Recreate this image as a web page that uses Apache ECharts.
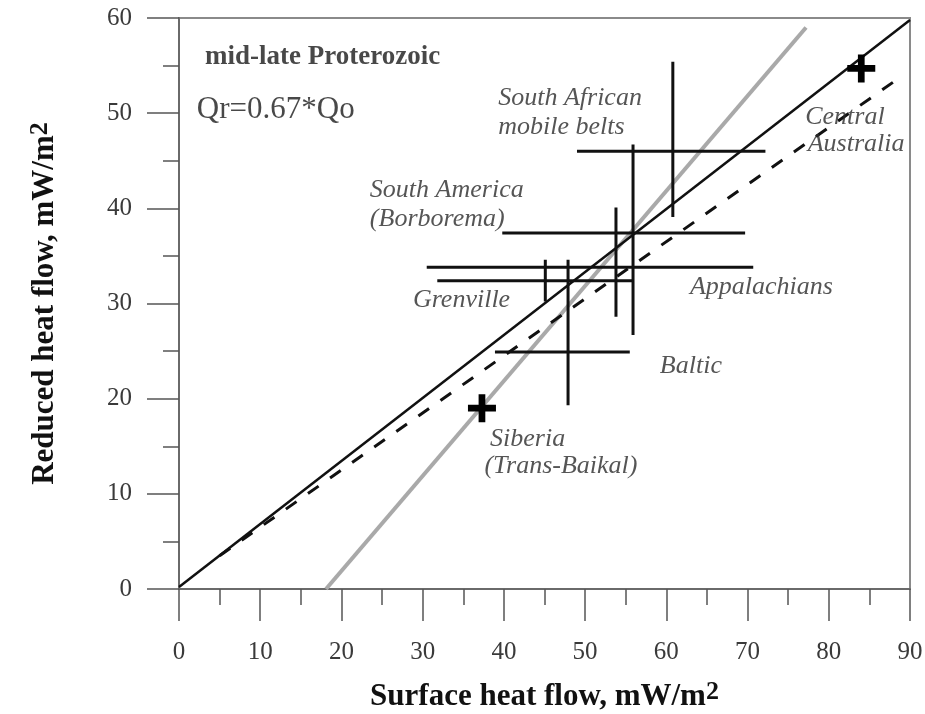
<!DOCTYPE html>
<html>
<head>
<meta charset="utf-8">
<script src="https://cdn.jsdelivr.net/npm/echarts@6/dist/echarts.min.js"></script>
<style>
  html, body { margin: 0; padding: 0; background: #fff; }
  #chart { width: 925px; height: 714px; }
</style>
</head>
<body>
<div id="chart"></div>
<script>
// Axis ranges (mW/m2)
const qoRange = [0, 90];
const qrRange = [0, 60];

// Provinces with error crosses: mean value and range on each axis
const provinces = ['South African mobile belts', 'South America (Borborema)', 'Appalachians', 'Grenville', 'Baltic'];
const qoMean = [60.8, 55.9, 53.8, 45.1, 47.9];
const qoLow  = [49.0, 39.8, 30.5, 31.8, 38.9];
const qoHigh = [72.2, 69.7, 70.7, 55.9, 55.5];
const qrMean = [46.0, 37.4, 33.8, 32.4, 24.9];
const qrLow  = [39.1, 26.7, 28.6, 30.2, 19.3];
const qrHigh = [55.4, 46.7, 40.1, 34.6, 34.6];

// Single-value provinces
const pointNames = ['Siberia', 'Central Australia'];
const pointQo = [37.3, 84.0];
const pointQr = [19.0, 54.7];

// Reference lines (end points)
const fitQo = [0, 90];       // Qr = 0.67*Qo
const fitQr = [0.2, 59.8];
const dashQo = [5, 89];
const dashQr = [3.5, 53.9];
const greyQo = [18.1, 77.2];
const greyQr = [0, 59];

// Text annotations: [Qo, Qr, text]
const notes = [
  [39.3, 51.6, 'South African'],
  [39.3, 48.5, 'mobile belts'],
  [77.1, 49.6, 'Central'],
  [77.4, 46.7, 'Australia'],
  [23.5, 41.9, 'South America'],
  [23.5, 38.9, '(Borborema)'],
  [28.8, 30.4, 'Grenville'],
  [62.9, 31.7, 'Appalachians'],
  [59.2, 23.4, 'Baltic'],
  [38.3, 15.7, 'Siberia'],
  [37.6, 12.9, '(Trans-Baikal)']
];
const headerNotes = [
  [3.2, 55.9, 'mid-late Proterozoic', 'bold', 'normal', 27],
  [2.2, 50.3, 'Qr=0.67*Qo', 'normal', 'normal', 31]
];

const SERIF = '"Liberation Serif", "DejaVu Serif", serif';
const AXIS_COLOR = '#6a6a6a';

const series = [];

// Reference lines
series.push({
  type: 'line', silent: true, symbol: 'none', z: 2,
  data: greyQo.map((x, i) => [x, greyQr[i]]),
  lineStyle: { color: '#a9a9a9', width: 4 }
});
series.push({
  type: 'line', silent: true, symbol: 'none', z: 3,
  data: dashQo.map((x, i) => [x, dashQr[i]]),
  lineStyle: { color: '#111', width: 3, type: [13, 14] }
});
series.push({
  type: 'line', silent: true, symbol: 'none', z: 3,
  data: fitQo.map((x, i) => [x, fitQr[i]]),
  lineStyle: { color: '#111', width: 2.5 }
});

// Error crosses
provinces.forEach((name, i) => {
  series.push({
    type: 'line', name: name, silent: true, symbol: 'none', z: 4,
    data: [[qoLow[i], qrMean[i]], [qoHigh[i], qrMean[i]]],
    lineStyle: { color: '#111', width: 3 }
  });
  series.push({
    type: 'line', name: name, silent: true, symbol: 'none', z: 4,
    data: [[qoMean[i], qrLow[i]], [qoMean[i], qrHigh[i]]],
    lineStyle: { color: '#111', width: 3 }
  });
});

// Plus markers
series.push({
  type: 'scatter', silent: true, z: 5,
  symbol: 'path://M-1.2,-5L1.2,-5L1.2,-1.2L5,-1.2L5,1.2L1.2,1.2L1.2,5L-1.2,5L-1.2,1.2L-5,1.2L-5,-1.2L-1.2,-1.2Z',
  symbolSize: 28,
  itemStyle: { color: '#000', opacity: 1 },
  data: pointQo.map((x, i) => ({ name: pointNames[i], value: [x, pointQr[i]] }))
});

// Province labels
series.push({
  type: 'scatter', silent: true, z: 6, symbolSize: 0,
  data: notes.map(n => ({ value: [n[0], n[1]], label: { formatter: n[2] } })),
  label: {
    show: true, position: 'inside', align: 'left', verticalAlign: 'middle',
    fontFamily: SERIF, fontStyle: 'italic', fontSize: 26, color: '#2b2b2b'
  }
});

// Header labels
series.push({
  type: 'scatter', silent: true, z: 6, symbolSize: 0,
  data: headerNotes.map(n => ({
    value: [n[0], n[1]],
    label: { formatter: n[2], fontWeight: n[3], fontStyle: n[4], fontSize: n[5] }
  })),
  label: {
    show: true, position: 'inside', align: 'left', verticalAlign: 'middle',
    fontFamily: SERIF, color: '#1a1a1a'
  }
});

const axisCommon = {
  type: 'value',
  interval: 10,
  axisLine: { show: true, onZero: false, lineStyle: { color: AXIS_COLOR, width: 2 } },
  axisTick: { show: true, inside: false, length: 32, lineStyle: { color: '#555', width: 1.5 } },
  minorTick: { show: true, splitNumber: 2, length: 16, lineStyle: { color: '#555', width: 1.5 } },
  splitLine: { show: false },
  minorSplitLine: { show: false },
  nameLocation: 'middle',
  nameTextStyle: {
    rich: {
      t: { fontFamily: SERIF, fontWeight: 'bold', fontSize: 31, color: '#111', lineHeight: 36 },
      s: { fontFamily: SERIF, fontWeight: 'bold', fontSize: 26, color: '#111', lineHeight: 22, verticalAlign: 'top' }
    }
  }
};

const option = {
  backgroundColor: '#fff',
  animation: false,
  grid: {
    left: 179, right: 15, top: 18, bottom: 125,
    outerBoundsMode: 'none',
    containLabel: false,
    show: true, borderColor: '#8a8a8a', borderWidth: 2, backgroundColor: 'transparent'
  },
  xAxis: Object.assign({}, axisCommon, {
    min: qoRange[0], max: qoRange[1],
    name: '{t|Surface heat flow, mW/m}{s|2}',
    nameGap: 90,
    axisLabel: { margin: 51, fontFamily: SERIF, fontSize: 25, color: '#3a3a3a' }
  }),
  yAxis: Object.assign({}, axisCommon, {
    min: qrRange[0], max: qrRange[1],
    name: '{t|Reduced heat flow, mW/m}{s|2}',
    nameRotate: 90,
    nameGap: 116,
    axisLabel: { margin: 47, fontFamily: SERIF, fontSize: 25, color: '#3a3a3a' }
  }),
  series: series
};

const chart = echarts.init(document.getElementById('chart'), null, { renderer: 'canvas' });
chart.setOption(option);
</script>
</body>
</html>
